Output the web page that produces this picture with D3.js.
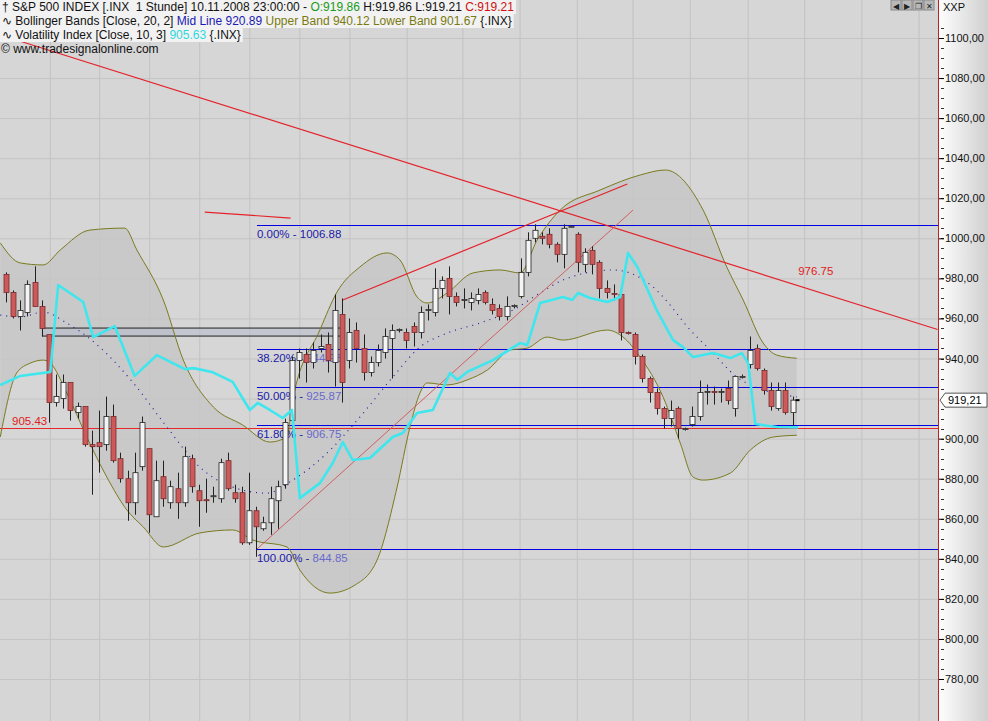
<!DOCTYPE html>
<html><head><meta charset="utf-8">
<script src="https://cdn.jsdelivr.net/npm/d3@7"></script>
<style>
body{margin:0;background:#d6d6d6;overflow:hidden}
svg{display:block;font-family:"Liberation Sans",Arial,sans-serif}
</style></head>
<body><svg id="c" width="988" height="721"></svg>
<script>
// hourly candles, S&P 500 (open, high, low, close)
var opens  = [982,973,961,963,978,966,952,918,920,928,913,916,897,898,897,911,890,880,868,886,895,861,881,868,875,868,890,874,869.5,871,870,889,873,873,848,864,855,858,869,877,909,939,942,938,945,947,938,962,939,954,945,933,938,943,950,954,953,956,953,964,963,975,980,971,969,968,969,973,967,965,961,966,971,983,1000,1001,1002,997,992,1006,1002,987,994,988,975,972.5,972,953,952,941,930,923,915,910,915,905,907,911,923,923.5,923,925,915,931,937,945,934,924,915,924,913];
var highs  = [983,974,969,979,986,969,952,932,932,928,918,916,904,914,921,917,893,884,893,911,895,889,889,879,883,896,892,877,880,876,890,893,877,876,883,866,861,876,879,910,941,945,945,948,952,953,972,970,960,958,952,941,947,955,957,955,955,958,966,967,985,981,986,973,975,973,975,974,970,967,971,967,990,1003,1007,1003,1005,998,1007,1006.5,1003,995,996,989,979,977,975,953.5,953,942,931,925,916,919,916,905.5,916,929,927,926,925,929,931,932,951,947,935,928,928,928,921];
var lows   = [968,960,954,961,966,951,908,916,915,909,910,896,872,883,894,888,878,859,862,884,853,861,866,865,860,866,873,856,863,868,868,874,868,847,847,841,854,852,855,875,905,930,928,935,943,933,926,918,935,938,929,931,936,940,930,953,945,946,950,959,961,970,962,966,965,964,967,967,962,959,959,965,970,981,998,997,995,988,985,1005.5,983,983,982,970,970,969,949,952,937,928,918,912,905,906,900,904,906,909,917,917,918,917,911,930,935,934,922,914,914,912,906];
var closes = [973,961,964,977,966,955,918,921,928,914,916,897,896,896,911,889,880,868,883,908,862,879,870,876,868,891,876,869,869,871.5,888,875,870,848,864,856,858,870,876,908,939,943,938,944,946,939,964,928,953,945,933,938,944,951,954,954.5,949,953,963,964.5,975,979,971,968,969.5,970,972,968,964,961,966,966.5,983,999,1004,1000,997,992,1005,1006,988,993,987,975,973,972,953,952.5,941,930,923,915,910,914,905,905,911,923,923.5,923,923.5,919,931,931,944,935,924,916,924,913,919.21];

// Bollinger Bands (20, 2) read at bar positions
var upIdx  = [-0.8,2,5.2,7.6,11.7,16.6,18.3,22,24.8,29,33.1,36.9,39.3,40.1,43.9,46.3,49.5,53.3,55.1,57.5,58.9,61.7,65.3,69.1,71.9,74.3,77.5,83.1,88.7,92.2,97.5,100.8,103.1,105.9,107.8,110.6];
var upVal  = [997.7,987.7,986.7,994.2,1004.1,1005.1,994.2,969.2,939.2,915.8,906.8,898.3,900.8,919.3,954.2,973.2,985.7,992.7,989.2,970.7,967.7,972.7,982.7,984.2,982.7,999.2,1014.1,1024.1,1031.6,1034.1,1014.1,985.7,969.2,947.7,941.7,940.12];
var loIdx  = [-0.8,1.5,3.4,5.2,6.2,8.5,11.3,14.1,16.9,19.2,22,27.1,31.7,34.5,39.3,41.1,45.3,48.8,51.9,54.7,56.5,57.9,58.9,61.7,64.5,67.3,70.5,72.9,75.7,77.9,84.1,86.3,88.7,91.9,94.3,96.1,97.5,101.3,104.1,107.3,110.6];
var loVal  = [900.8,932.8,937.7,939.2,937.7,922.8,900.8,880.8,864.4,855.9,845.9,852.9,854.4,849.4,845.9,834.4,822.9,826.9,839.4,875.8,905.8,922.8,927.8,926.8,929.3,934.2,944.2,945.2,950.7,949.2,954.2,950.7,940.7,920.8,897.8,880.8,879.3,882.8,894.3,900.8,901.67];
var midIdx = [-0.8,2,5.2,8.5,13.1,17.8,22.5,27.1,31.7,36.5,40.1,44.9,49.5,54.1,57.9,61.7,66.3,70.9,74.7,77.9,84.9,90.5,91.9,95.7,98.5,102.2,105.9,110.6];
var midVal = [961.7,960.7,963.2,957.7,945.7,927.8,905.8,885.8,875.8,872.8,879.3,892.8,910.8,930.8,945.7,952.7,957.7,964.2,972.7,979.2,984.2,975.7,970.7,954.2,944.2,930.8,924.3,920.89];

// Volatility Index (10, 3)
var volIdx = [-0.8,2,6.2,7.3,10.8,12.2,15.2,18,21.1,25,26.2,28.8,31.7,34.1,35.2,36.9,38.7,40,41.1,43.9,45.7,47.1,48.5,50.9,54.1,55.5,57.5,59.7,62.1,63.1,64.5,68.1,71.9,72.9,74.7,77.9,79.2,80,81.7,84.1,85.9,87,88.3,91,93.3,94.7,96.1,98.9,101.3,102.9,103.8,104.8,107.8,110.8];
var volVal = [926.8,931.3,933.3,976.7,968.2,950.7,956.2,931.3,941.7,934.7,935.2,933.3,928.3,914.3,917.8,914.3,910.3,914.3,870.3,877.8,887.8,898.3,889.3,890.3,900.8,902.8,912.8,914.3,932.8,929.3,933.3,939.2,947.7,946.7,967.7,970.7,969.2,972.7,970.2,968.2,970.7,992.7,985.7,964.2,949.2,945.7,940.7,942.7,940.2,942.7,937.7,907.3,905.8,905.63];

// Fibonacci retracement 1006.88 -> 844.85
var fibPct    = ["0.00%","38.20%","50.00%","61.80%","100.00%"];
var fibLevels = [1006.88,944.98,925.87,906.75,844.85];
var fibStart  = 35.1;

// trendlines [bar, price, bar, price]
var trendLines = [
  {p:[1,1099.5,130.3,954.5], c:"#e4222a", w:1.2},
  {p:[47.1,969.2,86.9,1027.1], c:"#e4222a", w:1.2},
  {p:[35.1,844.9,87.7,1014.1], c:"#d06060", w:1},
  {p:[27.8,1013.1,39.8,1010.1], c:"#e4222a", w:1.2}
];
var supportLevel = 905.43;
var boxBars = [5.1, 47.1], boxLevels = [955.2, 951.2];
var gridBars = [6.2,13.1,20.1,27.1,34.1,41.1,48.1,56.1,63.9,71.9,79.9,87.7,95.7,103.8,111.7,119.7,127.7];
var trendLabel = {bar:110.8, price:981.5, text:"976.75"};
var lastPrice = 919.21;

var svg = d3.select("#c");
var W = 938;
var x = d3.scaleLinear().domain([0, 1]).range([6, 13.15]);
var y = d3.scaleLinear().domain([780, 1100]).range([679, 38]);

// grid
svg.append("g").selectAll("line").data(gridBars).join("line")
  .attr("x1", d => x(d)).attr("x2", d => x(d)).attr("y1", 0).attr("y2", 721)
  .attr("stroke", "#c2c2c2");
svg.append("g").selectAll("line").data(d3.range(780, 1101, 20)).join("line")
  .attr("x1", 0).attr("x2", W).attr("y1", d => y(d) + .5).attr("y2", d => y(d) + .5)
  .attr("stroke", "#c4c4c4");

// band fill
var bandLine = d3.line().x(d => x(d[0])).y(d => y(d[1])).curve(d3.curveMonotoneX);
var upPts = upIdx.map((d, i) => [d, upVal[i]]);
var loPts = loIdx.map((d, i) => [d, loVal[i]]);
var loRev = bandLine(loPts.slice().reverse());
svg.append("path")
  .attr("d", bandLine(upPts) + loRev.replace(/^M/, "L") + "Z")
  .attr("fill", "#c6c6c6").attr("opacity", 0.8);

// fib lines
var fg = svg.append("g");
fibLevels.forEach(function (v, i) {
  fg.append("rect").attr("x", x(fibStart)).attr("width", W - x(fibStart))
    .attr("y", Math.round(y(v))).attr("height", 1)
    .attr("fill", "#0000e0");
  var t = fg.append("text").attr("x", x(fibStart)).attr("y", y(v) + 13)
    .attr("font-size", 11.5);
  t.append("tspan").attr("fill", "#1a1aa8").text(fibPct[i] + " - ");
  t.append("tspan").attr("fill", i == 0 ? "#1a1aa8" : "#6a6acc").text(v.toFixed(2));
});

// support line
svg.append("rect").attr("x", 0).attr("width", W)
  .attr("y", Math.round(y(supportLevel))).attr("height", 1)
  .attr("fill", "#e82828");
svg.append("text").attr("x", 12).attr("y", y(supportLevel) - 3)
  .attr("fill", "#e02020").attr("font-size", 11.5).text(supportLevel.toFixed(2));

// box
svg.append("rect").attr("x", x(boxBars[0])).attr("y", y(boxLevels[0]))
  .attr("width", x(boxBars[1]) - x(boxBars[0])).attr("height", y(boxLevels[1]) - y(boxLevels[0]))
  .attr("fill", "#b8bccc").attr("fill-opacity", .6).attr("stroke", "#222");

// bands lines
svg.append("path").attr("d", bandLine(upPts)).attr("fill", "none").attr("stroke", "#7a7a20");
svg.append("path").attr("d", bandLine(loPts)).attr("fill", "none").attr("stroke", "#7a7a20");
var midPts = midIdx.map((d, i) => [d, midVal[i]]);
svg.append("path").attr("d", bandLine(midPts)).attr("fill", "none")
  .attr("stroke", "#2020a0").attr("stroke-width", 1.2).attr("stroke-dasharray", "1,5");

// trendlines
trendLines.forEach(function (t) {
  svg.append("line").attr("x1", x(t.p[0])).attr("y1", y(t.p[1]))
    .attr("x2", x(t.p[2])).attr("y2", y(t.p[3]))
    .attr("stroke", t.c).attr("stroke-width", t.w);
});
svg.append("text").attr("x", x(trendLabel.bar)).attr("y", y(trendLabel.price))
  .attr("fill", "#e02020").attr("font-size", 11.5).text(trendLabel.text);

// candles
var cg = svg.append("g");
closes.forEach(function (c, i) {
  var o = opens[i], up = c >= o;
  var cx = Math.round(x(i)) + .5;
  cg.append("line").attr("x1", cx).attr("x2", cx).attr("y1", y(highs[i])).attr("y2", y(lows[i]))
    .attr("stroke", "#222");
  var top = y(Math.max(o, c)), h = Math.max(1, Math.abs(y(o) - y(c)));
  cg.append("rect").attr("x", cx - 2.5).attr("y", top).attr("width", 5).attr("height", h)
    .attr("fill", up ? "#f4f4f4" : "#cc5a5a").attr("stroke", up ? "#222" : "#7a2a2a").attr("stroke-width", .8);
});
cg.append("line").attr("x1", x(110) + 3).attr("x2", x(110) + 7)
  .attr("y1", y(lastPrice)).attr("y2", y(lastPrice)).attr("stroke", "#000").attr("stroke-width", 2);

// volatility
var volPts = volIdx.map((d, i) => [d, volVal[i]]);
svg.append("path").attr("d", d3.line().x(d => x(d[0])).y(d => y(d[1]))(volPts))
  .attr("fill", "none").attr("stroke", "#3ee6ee").attr("stroke-width", 2.6).attr("stroke-linejoin", "round");

// right axis panel
var grad = svg.append("defs").append("linearGradient").attr("id", "ax");
grad.append("stop").attr("offset", "0").attr("stop-color", "#ffffff");
grad.append("stop").attr("offset", "1").attr("stop-color", "#cfcfcf");
svg.append("rect").attr("x", W).attr("y", 0).attr("width", 50).attr("height", 721).attr("fill", "url(#ax)");
svg.append("line").attr("x1", W + .5).attr("x2", W + .5).attr("y1", 0).attr("y2", 721).attr("stroke", "#c02020");
var minor = svg.append("g");
d3.range(775, 1106, 5).forEach(function (v) {
  minor.append("line").attr("x1", W + 3).attr("x2", W + 6)
    .attr("y1", Math.round(y(v)) + .5).attr("y2", Math.round(y(v)) + .5).attr("stroke", "#333");
});
// 920 label sits under the last-price marker
var ax = svg.append("g").attr("transform", "translate(" + (W + 1) + ",0)")
  .call(d3.axisRight(y).tickValues(d3.range(780, 1101, 20).filter(d => d != 920)).tickSize(5).tickPadding(1)
    .tickFormat(d => d.toFixed(2).replace(".", ",")));
ax.select(".domain").remove();
ax.selectAll("text").attr("font-size", 11).attr("fill", "#111").attr("font-family", "Liberation Sans,Arial,sans-serif");
svg.append("text").attr("x", W + 5).attr("y", 11).attr("font-size", 11).attr("fill", "#111").text("XXP");

// last price marker
var py = y(lastPrice);
svg.append("path").attr("d", "M" + (W + 2) + "," + py + "L" + (W + 7) + "," + (py - 7) + "H987V" + (py + 7) + "H" + (W + 7) + "Z")
  .attr("fill", "#fff").attr("stroke", "#555");
svg.append("text").attr("x", W + 10).attr("y", py + 4).attr("font-size", 11).attr("fill", "#000").text("919,21");

// toolbar buttons
["\u25C0", "\u25B6", "\u2750", "\u2715"].forEach(function (g, i) {
  svg.append("rect").attr("x", 891 + i * 11).attr("y", 0).attr("width", 10).attr("height", 10)
    .attr("fill", "#b8b8b8").attr("stroke", "#888");
  svg.append("text").attr("x", 896 + i * 11).attr("y", 8.5).attr("text-anchor", "middle")
    .attr("font-size", 8).attr("fill", "#222").text(g);
});

// header legend
var rows = [
  [["\u2020 S&P 500 INDEX [.INX  1 Stunde] 10.11.2008 23:00:00 - ", "#111"], ["O:919.86", "#1a9a1a"], [" H:919.86 L:919.21 ", "#111"], ["C:919.21", "#d01010"]],
  [["\u223F Bollinger Bands [Close, 20, 2] ", "#111"], ["Mid Line 920.89", "#1a1ab4"], [" Upper Band 940.12 Lower Band 901.67", "#7a7a10"], [" {.INX}", "#111"]],
  [["\u223F Volatility Index [Close, 10, 3] ", "#111"], ["905.63", "#30d8e0"], [" {.INX}", "#111"]]
];
rows.forEach(function (r, i) {
  var bg = svg.append("rect").attr("x", 0).attr("y", i * 14).attr("height", 14).attr("fill", "#f2f2f2");
  var t = svg.append("text").attr("x", 2).attr("y", i * 14 + 11).attr("font-size", 12).attr("xml:space", "preserve");
  r.forEach(s => t.append("tspan").attr("fill", s[1]).text(s[0]));
  bg.attr("width", t.node().getComputedTextLength() + 4);
});
svg.append("text").attr("x", 1).attr("y", 53).attr("font-size", 12).attr("fill", "#111")
  .text("\u00A9 www.tradesignalonline.com");
</script></body></html>
